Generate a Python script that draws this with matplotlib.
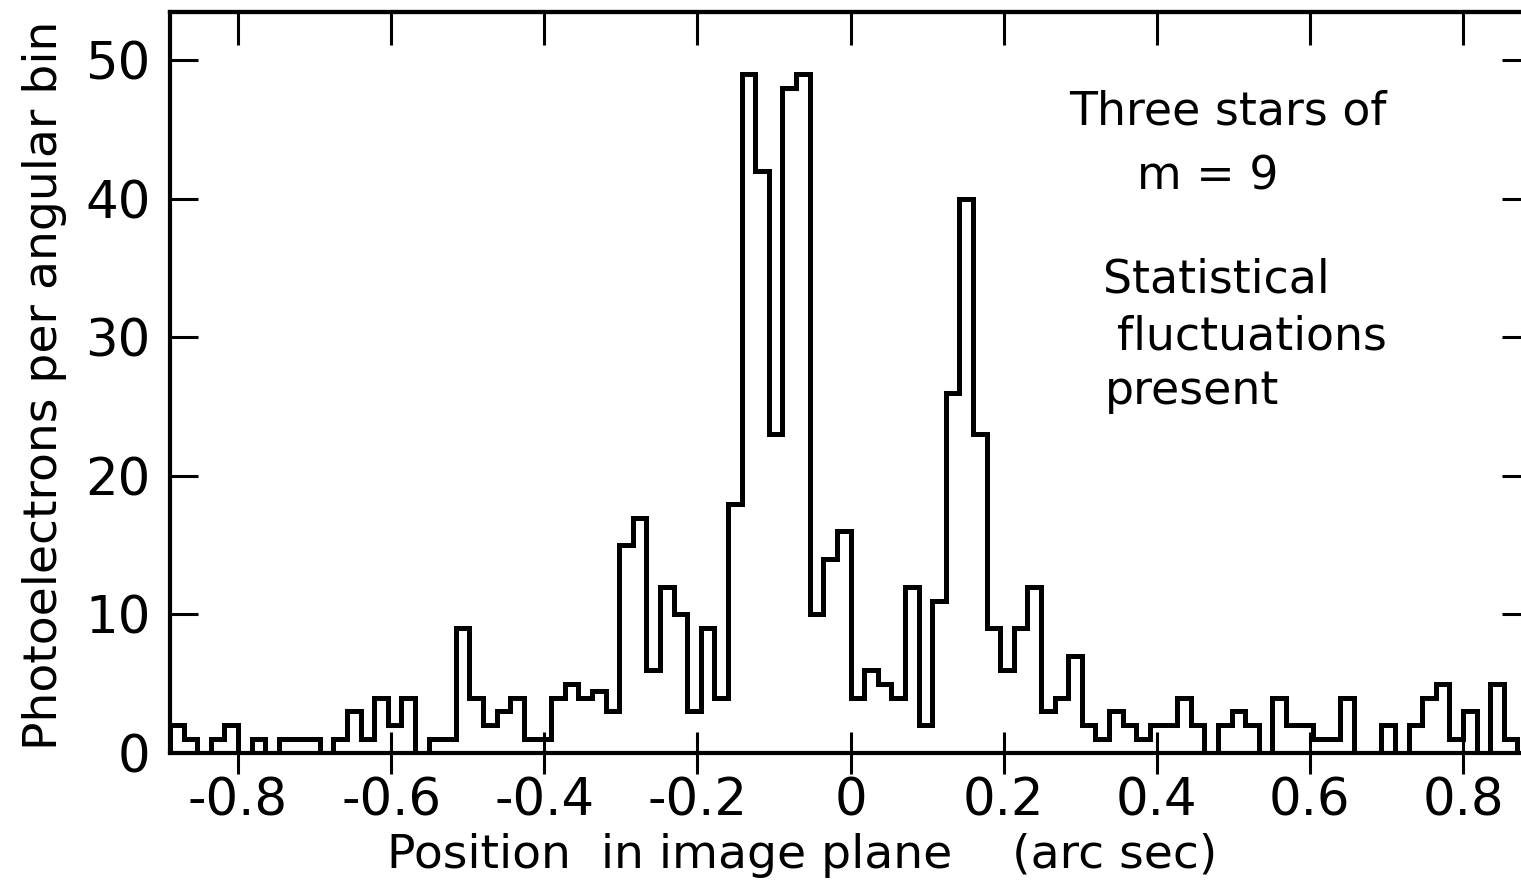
import matplotlib.pyplot as plt
import numpy as np

# photoelectron counts per angular bin, read left to right off the plot
counts = [2, 1, 0, 1, 2, 0, 1, 0, 1, 1,
          1, 0, 1, 3, 1, 4, 2, 4, 0, 1,
          1, 9, 4, 2, 3, 4, 1, 1, 4, 5,
          4, 4.5, 3, 15, 17, 6, 12, 10, 3, 9,
          4, 18, 49, 42, 23, 48, 49, 10, 14, 16,
          4, 6, 5, 4, 12, 2, 11, 26, 40, 23,
          9, 6, 9, 12, 3, 4, 7, 2, 1, 3,
          2, 1, 2, 2, 4, 2, 0, 2, 3, 2,
          0, 4, 2, 2, 1, 1, 4, 0, 0, 2,
          0, 2, 4, 5, 1, 3, 0, 5, 1, 0]
bin_width = 0.8 / 45  # arc sec
xticks = [-0.8, -0.6, -0.4, -0.2, 0, 0.2, 0.4, 0.6, 0.8]
xticklabels = ["-0.8", "-0.6", "-0.4", "-0.2", "0", "0.2", "0.4", "0.6", "0.8"]
yticks = [0, 10, 20, 30, 40, 50]

n = len(counts)
edges = (np.arange(n + 1) - n / 2) * bin_width

plt.rcParams['font.family'] = ['DejaVu Sans']

fig = plt.figure(figsize=(15.21, 8.89), dpi=100)
ax = fig.add_axes([170 / 1521, 136 / 889, 1361 / 1521, 741 / 889])

ax.stairs(counts, edges, color="black", linewidth=3.6)

ax.set_xlim(edges[0], edges[-1])
ax.set_ylim(0, 53.5)

for side in ["left", "top", "bottom", "right"]:
    ax.spines[side].set_linewidth(3)

ax.set_xticks(xticks)
ax.set_xticklabels(xticklabels)
ax.set_yticks(yticks)
ax.set_yticklabels([str(v) for v in yticks])
ax.tick_params(axis="x", direction="inout", length=30, width=2.2, labelsize=37, pad=2)
ax.tick_params(axis="y", direction="in", length=20, width=2.2, labelsize=37, pad=14)

top = ax.secondary_xaxis("top")
top.set_xticks(xticks)
top.set_xticklabels([])
top.tick_params(direction="in", length=24, width=2.2)
top.spines["top"].set_linewidth(3)

right = ax.secondary_yaxis("right")
right.set_yticks(yticks[1:])
right.set_yticklabels([])
right.tick_params(direction="in", length=21, width=2.2)

ax.set_xlabel("Position  in image plane    (arc sec)", fontsize=34, va="center")
ax.xaxis.set_label_coords((802 - 170) / 1361, (753 - 856) / 741)
ax.set_ylabel("Photoelectrons per angular bin", fontsize=34, va="center")
ax.yaxis.set_label_coords((45 - 170) / 1361, (753 - 385) / 741)

notes = [("Three stars of", 1228, 112), ("m = 9", 1208, 177),
         ("Statistical", 1216, 280), ("fluctuations", 1252, 337),
         ("present", 1192, 392)]
for text, px, py in notes:
    fig.text(px / 1521, 1 - py / 889, text, fontsize=33, ha="center", va="center")

fig.savefig("out.png", dpi=100)
plt.close()
